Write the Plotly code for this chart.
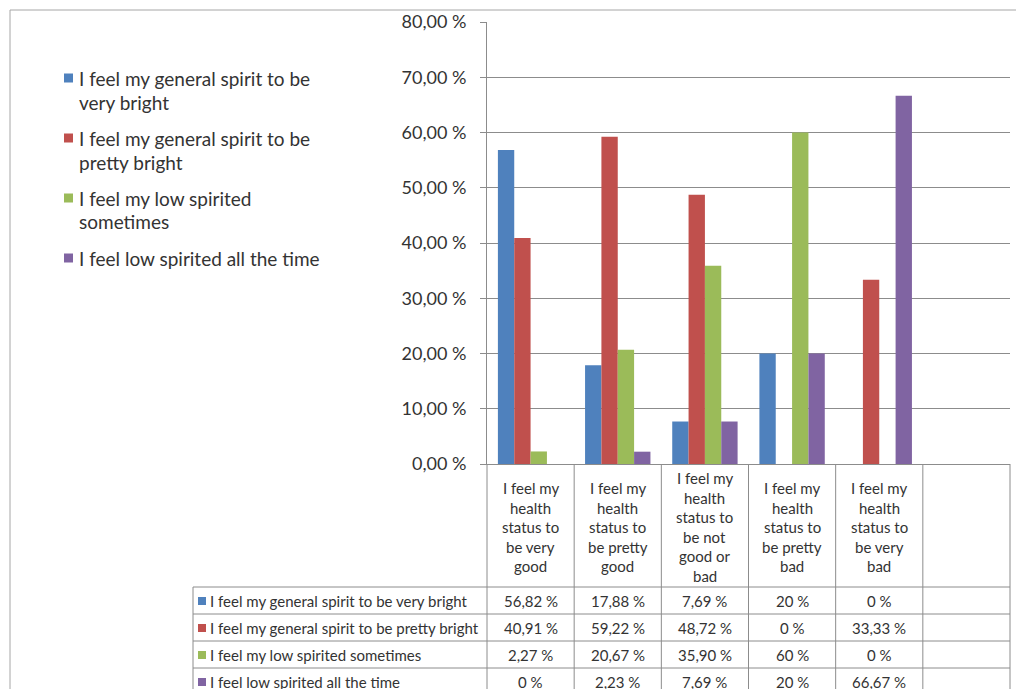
import plotly.graph_objects as go

# ---- data -------------------------------------------------------------
categories = [
    "I feel my health status to be very good",
    "I feel my health status to be pretty good",
    "I feel my health status to be not good or bad",
    "I feel my health status to be pretty bad",
    "I feel my health status to be very bad",
]
category_lines = [
    ["I feel my", "health", "status to", "be very", "good"],
    ["I feel my", "health", "status to", "be pretty", "good"],
    ["I feel my", "health", "status to", "be not", "good or", "bad"],
    ["I feel my", "health", "status to", "be pretty", "bad"],
    ["I feel my", "health", "status to", "be very", "bad"],
]
series_names = [
    "I feel my general spirit to be very bright",
    "I feel my general spirit to be pretty bright",
    "I feel my low spirited sometimes",
    "I feel low spirited all the time",
]
legend_lines = [
    ["I feel my general spirit to be", "very bright"],
    ["I feel my general spirit to be", "pretty bright"],
    ["I feel my low spirited", "sometimes"],
    ["I feel low spirited all the time"],
]
very_bright = [56.82, 17.88, 7.69, 20, 0]
pretty_bright = [40.91, 59.22, 48.72, 0, 33.33]
low_sometimes = [2.27, 20.67, 35.90, 60, 0]
low_all_time = [0, 2.23, 7.69, 20, 66.67]
series_values = [very_bright, pretty_bright, low_sometimes, low_all_time]
colors = ["#4F81BD", "#C0504D", "#9BBB59", "#8064A2"]
empty_category = " "

# ---- geometry (pixels) --------------------------------------------------
W, H = 1016, 689
L, R, T, B = 487, 1010, 22, 464
GRID = "#8c8c8c"
TEXT = "#333333"
FONT = "Lato"


def xp(px):
    return (px - L) / (R - L)


def yp(py):
    return (B - py) / (B - T)


def fmt(v):
    if float(v).is_integer():
        return f"{int(v)} %"
    return f"{v:.2f}".replace(".", ",") + " %"


fig = go.Figure()
for name, vals, c in zip(series_names, series_values, colors):
    fig.add_trace(go.Bar(x=categories, y=vals, name=name, marker_color=c,
                         marker_line_width=0, showlegend=False))

shapes = []
annotations = []


def hline(y, x0, x1, color=GRID):
    shapes.append(dict(type="line", xref="paper", yref="paper",
                       x0=xp(x0), x1=xp(x1), y0=yp(y), y1=yp(y),
                       line=dict(color=color, width=1)))


def vline(x, y0, y1, color=GRID):
    shapes.append(dict(type="line", xref="paper", yref="paper",
                       x0=xp(x), x1=xp(x), y0=yp(y0), y1=yp(y1),
                       line=dict(color=color, width=1)))


# outer chart frame
hline(10, 10, W + 5, "#a6a6a6")
vline(10, 10, H + 5, "#a6a6a6")

# data table grid
row_tops = [587, 614, 641, 668, 695]
for y in row_tops:
    hline(y, 193, R)
vline(193, 587, 700)
n_cols = len(categories) + 1
col_w = (R - L) / n_cols
for i in range(n_cols + 1):
    vline(L + i * col_w, B, 700)

# category labels in the table header
for ci, lines in enumerate(category_lines):
    n = len(lines)
    center = 527
    for li, line in enumerate(lines):
        y = center + (li - (n - 1) / 2) * 19.5
        annotations.append(dict(xref="x", yref="paper", x=categories[ci], y=yp(y),
                                text=line, showarrow=False, xanchor="center",
                                yanchor="middle",
                                font=dict(family=FONT, size=15, color=TEXT)))

# table rows: colour key, series name, values
for ri, (name, vals, c) in enumerate(zip(series_names, series_values, colors)):
    yc = row_tops[ri] + 14
    shapes.append(dict(type="rect", xref="paper", yref="paper",
                       x0=xp(198), x1=xp(206), y0=yp(yc - 4), y1=yp(yc + 4),
                       fillcolor=c, line=dict(width=0)))
    annotations.append(dict(xref="paper", yref="paper", x=xp(208), y=yp(yc),
                            text=name, showarrow=False, xanchor="left",
                            yanchor="middle",
                            font=dict(family=FONT, size=15, color=TEXT)))
    for ci, v in enumerate(vals):
        annotations.append(dict(xref="x", yref="paper", x=categories[ci], y=yp(yc),
                                text=fmt(v), showarrow=False, xanchor="center",
                                yanchor="middle",
                                font=dict(family=FONT, size=15, color=TEXT)))

# legend
for i, (lines, c) in enumerate(zip(legend_lines, colors)):
    y0 = 78 + 60 * i
    shapes.append(dict(type="rect", xref="paper", yref="paper",
                       x0=xp(64), x1=xp(73), y0=yp(y0 - 4.5), y1=yp(y0 + 4.5),
                       fillcolor=c, line=dict(width=0)))
    for li, line in enumerate(lines):
        annotations.append(dict(xref="paper", yref="paper", x=xp(77),
                                y=yp(y0 + 24 * li), text=line, showarrow=False,
                                xanchor="left", yanchor="middle",
                                font=dict(family=FONT, size=19, color=TEXT)))

fig.update_layout(
    width=W, height=H,
    margin=dict(l=L, r=W - R, t=T, b=H - B, pad=0),
    paper_bgcolor="white", plot_bgcolor="white",
    barmode="group", bargap=0.25, bargroupgap=0,
    separators=", ",
    shapes=shapes, annotations=annotations,
    xaxis=dict(type="category", categoryorder="array",
               categoryarray=categories + [empty_category],
               range=[-0.5, len(categories) + 0.5],
               showticklabels=False, ticks="", showgrid=False,
               showline=True, linecolor=GRID, linewidth=1, fixedrange=True),
    yaxis=dict(range=[0, 80], dtick=10, tickformat=".2f", ticksuffix=" %",
               showgrid=True, gridcolor=GRID, gridwidth=1, zeroline=False,
               showline=True, linecolor=GRID, linewidth=1,
               ticks="outside", ticklen=6, tickcolor=GRID,
               ticklabelstandoff=10,
               tickfont=dict(family=FONT, size=18, color=TEXT)),
    font=dict(family=FONT, color=TEXT),
)

fig.write_html("out.html")
